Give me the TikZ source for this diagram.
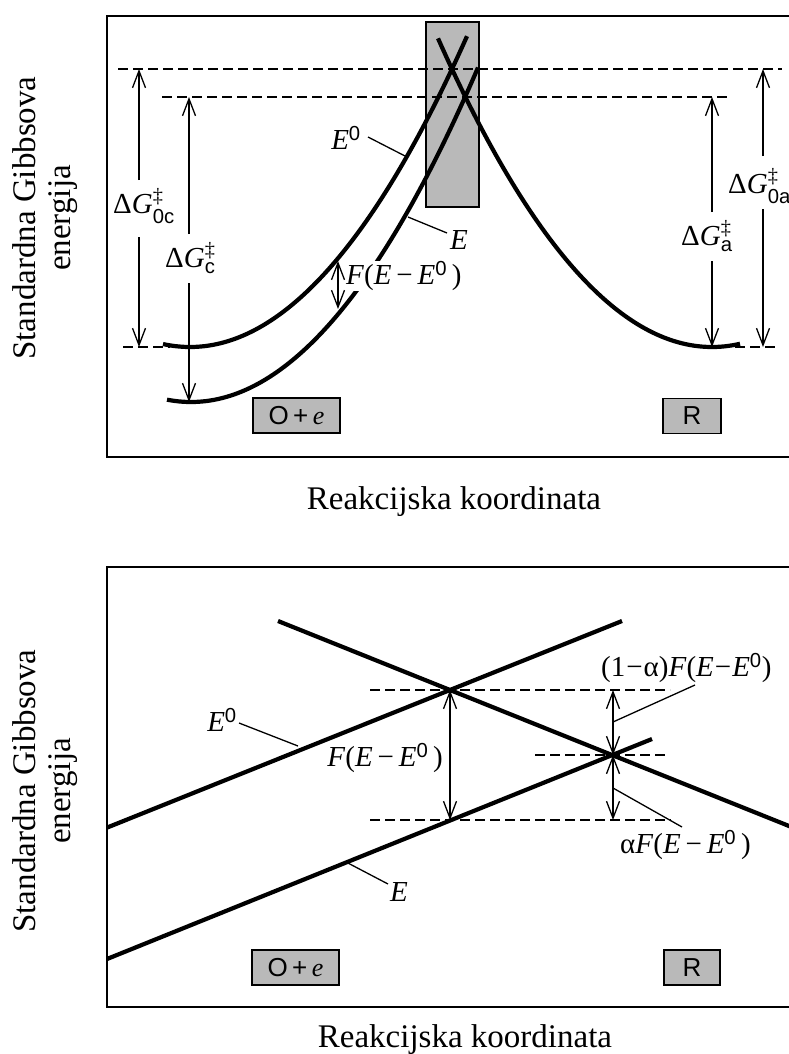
\documentclass[tikz,border=0pt]{standalone}
\usepackage{fontspec}
\usepackage{amsmath}
\setmainfont{Liberation Serif}
\setsansfont{Liberation Sans}
\usetikzlibrary{arrows.meta}
\newcommand{\Ez}{\textit{E}\textsuperscript{\sffamily 0}}
\newcommand{\FEE}{\textit{F}(\textit{E}\,−\,\Ez\,)}
\newcommand{\FEEt}{\textit{F}(\textit{E}\kern1pt−\kern1pt\Ez)}
\newcommand{\dG}[1]{$\text{Δ\textit{G}}^{\text{‡}}_{\text{\sffamily #1}}$}
\begin{document}
\begin{tikzpicture}[x=1pt,y=-1pt,
  frame/.style={line width=2pt},
  curve/.style={line width=4.2pt},
  dline/.style={line width=1.4pt, dash pattern=on 10pt off 5pt},
  dim/.style={line width=1.3pt, -{Straight Barb[length=17pt,width=13pt,line width=1.3pt]}},
  ddim/.style={line width=1.3pt, {Straight Barb[length=17pt,width=13pt,line width=1.3pt]}-{Straight Barb[length=17pt,width=13pt,line width=1.3pt]}},
  leader/.style={line width=1.3pt},
  lbl/.style={font=\fontsize{29}{32}\selectfont, inner sep=1pt},
  spec/.style={draw, line width=1.2pt, fill=gray!55, font=\sffamily\fontsize{26}{28}\selectfont, minimum height=35pt, inner sep=0pt},
  axis/.style={font=\fontsize{33}{35}\selectfont, align=center}]
\useasboundingbox (0,0) rectangle (789,1054);

% ================= TOP PANEL =================
\draw[frame] (800,16) -- (107,16) -- (107,457) -- (800,457);
\draw[line width=1.2pt, fill=gray!55] (426,22) rectangle (479,207);

\draw[dline] (118,69) -- (782,69);
\draw[dline] (162,97) -- (728,97);
\draw[dline] (123,347) -- (170,347);
\draw[dline] (735,347) -- (777,347);

% curves
\draw[curve] plot[domain=163:467, samples=80] (\x, {347 - (0.06364*(\x-190))^2});
\draw[curve] plot[domain=167:478, samples=80] (\x, {402 - (0.06372*(\x-191))^2});
\draw[curve] plot[domain=438:740, samples=80] (\x, {347 - (0.06411*(\x-712))^2});

% dimension arrows left
\coordinate (t0c) at (139,69);
\coordinate (b0c) at (139,347);
\node[lbl, anchor=west] (l0c) at (112,206) {\dG{0c}};
\coordinate (u0c) at (139,180);
\coordinate (d0c) at (139,237);
\draw[dim] (u0c) -- (t0c);
\draw[dim] (d0c) -- (b0c);

\coordinate (tc) at (189,97);
\coordinate (bc) at (189,402);
\node[lbl, anchor=west] (lc) at (164,258) {\dG{c}};
\coordinate (uc) at (189,234);
\coordinate (dc) at (189,283);
\draw[dim] (uc) -- (tc);
\draw[dim] (dc) -- (bc);

% dimension arrows right
\coordinate (ta) at (712,97);
\coordinate (ba) at (712,347);
\node[lbl, anchor=west] (la) at (680,236) {\dG{a}};
\coordinate (ua) at (712,212);
\coordinate (da) at (712,261);
\draw[dim] (ua) -- (ta);
\draw[dim] (da) -- (ba);

\coordinate (t0a) at (763,69);
\coordinate (b0a) at (763,347);
\node[lbl, anchor=west] (l0a) at (727,186) {\dG{0a}};
\coordinate (u0a) at (763,156);
\coordinate (d0a) at (763,209);
\draw[dim] (u0a) -- (t0a);
\draw[dim] (d0a) -- (b0a);

% F(E-E0) top
\coordinate (fa) at (338,261);
\coordinate (fb) at (338,309);
\draw[ddim] (fa) -- (fb);
\node[lbl, anchor=west, fill=white, inner sep=0pt] (ftop) at (346,276) {\FEE};

% curve labels top
\node[lbl] (e0top) at (346,138) {\Ez};
\coordinate (e0ts) at (368,137);
\coordinate (e0tl) at (405,156);
\draw[leader] (e0ts) -- (e0tl);
\node[lbl] (etop) at (459,240) {\textit{E}};
\coordinate (etl) at (408,217);
\coordinate (ete) at (447,233);
\draw[leader] (etl) -- (ete);

% species boxes
\node[spec, minimum width=87pt] (oe1) at (296.5,415.5) {O\,+\,{\rmfamily\itshape e}};
\node[spec, minimum width=58pt] (r1) at (692,416) {R};

% axis labels
\node[axis, rotate=90] (ylab1) at (45,218) {Standardna Gibbsova\\energija};
\node[axis] (xlab1) at (454,502) {Reakcijska koordinata};

% ================= BOTTOM PANEL =================
\draw[frame] (800,567) -- (107,567) -- (107,1007) -- (800,1007);

\draw[dline] (370,690) -- (670,690);
\draw[dline] (535,755) -- (667,755);
\draw[dline] (370,820) -- (671,820);

\coordinate (a1) at (107,827.6);
\coordinate (a2) at (622,621);
\coordinate (b1) at (107,959);
\coordinate (b2) at (652,739);
\coordinate (c1) at (278,621);
\coordinate (c2) at (800,830.4);
\draw[curve] (a1) -- (a2);
\draw[curve] (b1) -- (b2);
\draw[curve] (c1) -- (c2);

% F(E-E0) bottom
\coordinate (x1t) at (450,690);
\coordinate (x1b) at (450,820);
\draw[ddim] (x1t) -- (x1b);
\node[lbl, anchor=east] (fbot) at (444,758) {\FEE};

\coordinate (x2t) at (613,690);
\coordinate (x2m) at (613,755);
\coordinate (x2b) at (613,820);
\draw[ddim] (x2t) -- (x2m);
\draw[ddim] (x2m) -- (x2b);

\node[lbl, anchor=west, inner sep=0pt] (oma) at (601,668) {(1\kern1pt−\kern1ptα)\FEEt};
\coordinate (omal) at (613,722);
\coordinate (omae) at (695,685);
\draw[leader] (omal) -- (omae);

\node[lbl, anchor=west] (alf) at (619,845) {α\FEE};
\coordinate (alfl) at (613,788);
\coordinate (alfe) at (682,827);
\draw[leader] (alfl) -- (alfe);

\node[lbl] (e0bot) at (222,720) {\Ez};
\coordinate (e0bl) at (298,746);
\coordinate (e0bs) at (239,723);
\draw[leader] (e0bs) -- (e0bl);

\node[lbl] (ebot) at (399,892) {\textit{E}};
\coordinate (ebl) at (346,862);
\coordinate (ebs) at (388,884);
\draw[leader] (ebl) -- (ebs);

\node[spec, minimum width=87pt] (oe2) at (295.5,967.5) {O\,+\,{\rmfamily\itshape e}};
\node[spec, minimum width=56pt] (r2) at (692,967.5) {R};

\node[axis, rotate=90] (ylab2) at (45,791) {Standardna Gibbsova\\energija};
\node[axis] (xlab2) at (465,1040) {Reakcijska koordinata};
\end{tikzpicture}
\end{document}
